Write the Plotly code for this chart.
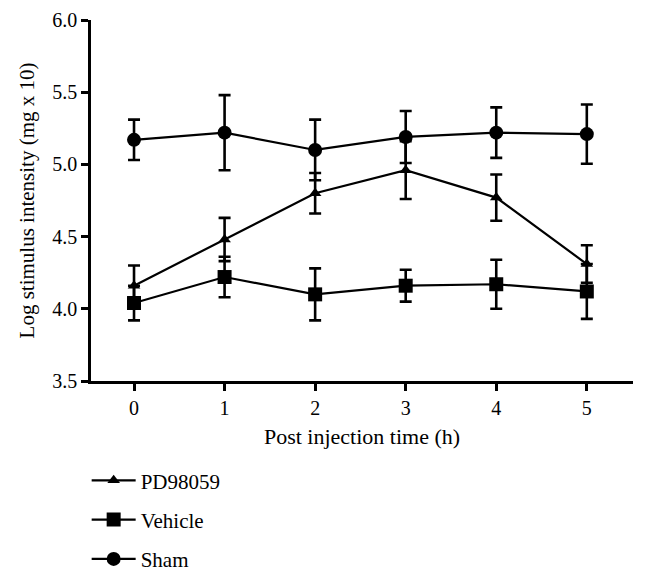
import plotly.graph_objects as go

time_h = [0, 1, 2, 3, 4, 5]

pd_values = [4.16, 4.48, 4.80, 4.96, 4.77, 4.31]
pd_err = [0.14, 0.15, 0.14, 0.20, 0.16, 0.13]

vehicle_values = [4.04, 4.22, 4.10, 4.16, 4.17, 4.12]
vehicle_err = [0.12, 0.14, 0.18, 0.11, 0.17, 0.19]

sham_values = [5.17, 5.22, 5.10, 5.19, 5.22, 5.21]
sham_err = [0.14, 0.26, 0.21, 0.18, 0.175, 0.205]

y_ticks = [3.5, 4.0, 4.5, 5.0, 5.5, 6.0]

FONT = "Liberation Serif"
BLACK = "#000000"

fig = go.Figure()

series = [
    ("PD98059", pd_values, pd_err, "triangle-up", 11),
    ("Vehicle", vehicle_values, vehicle_err, "square", 14),
    ("Sham", sham_values, sham_err, "circle", 14),
]

for i, (name, vals, err, sym, size) in enumerate(series):
    fig.add_trace(go.Scatter(
        x=time_h, y=vals, name=name, mode="lines+markers",
        legendgroup=f"g{i}",
        line=dict(color=BLACK, width=2.2),
        marker=dict(symbol=sym, size=size, color=BLACK),
        error_y=dict(type="data", array=err, visible=True,
                     color=BLACK, thickness=2.6, width=6),
    ))

fig.update_layout(
    width=639, height=576,
    margin=dict(l=83, r=14, t=12, b=203, autoexpand=False),
    paper_bgcolor="white", plot_bgcolor="white",
    font=dict(family=FONT, size=20, color=BLACK),
    showlegend=True,
    legend=dict(
        x=-0.008, y=0.215, xref="paper", yref="container",
        xanchor="left", yanchor="top",
        orientation="v", traceorder="grouped", tracegroupgap=9,
        itemwidth=44,
        font=dict(family=FONT, size=21, color=BLACK),
        bgcolor="rgba(0,0,0,0)",
    ),
)

fig.update_xaxes(
    range=[-0.475, 5.51], automargin=False,
    tickvals=time_h, ticktext=[str(t) for t in time_h],
    showline=True, linecolor=BLACK, linewidth=2.5,
    ticks="outside", ticklen=7, tickwidth=2.5, tickcolor=BLACK,
    showgrid=False, zeroline=False,
    title=dict(text="Post injection time (h)", standoff=11,
               font=dict(family=FONT, size=22, color=BLACK)),
    tickfont=dict(family=FONT, size=20, color=BLACK),
)

fig.update_yaxes(
    range=[3.5, 6.0], automargin=False,
    tickvals=y_ticks, ticktext=[f"{v:.1f}" for v in y_ticks],
    showline=True, linecolor=BLACK, linewidth=2.5,
    ticks="outside", ticklen=7, tickwidth=2.5, tickcolor=BLACK,
    showgrid=False, zeroline=False,
    title=dict(text="Log stimulus intensity (mg x 10)", standoff=12,
               font=dict(family=FONT, size=21, color=BLACK)),
    tickfont=dict(family=FONT, size=20, color=BLACK),
)

fig.write_html("out.html")
